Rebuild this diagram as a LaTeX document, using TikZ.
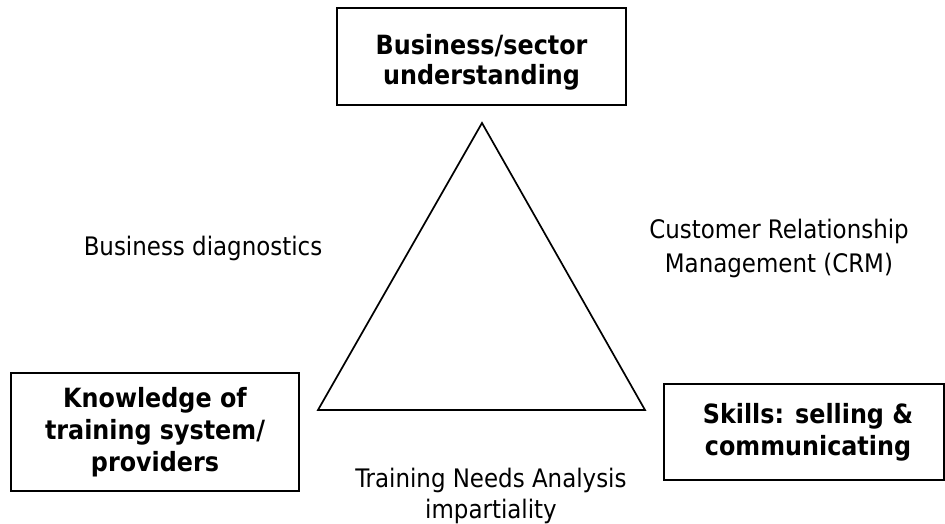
\documentclass[tikz,border=0pt]{standalone}
\usepackage{fontspec}
\setmainfont{DejaVu Sans Condensed}
\begin{document}
\begin{tikzpicture}[x=1pt,y=-1pt,
  txt/.style={font=\fontsize{25.5}{31}\selectfont, align=center, inner sep=0pt},
  boldtxt/.style={align=center, inner sep=0pt, font=\fontsize{26.5}{31}\selectfont\bfseries},
  framebox/.style={draw, line width=1.5pt},
  edge/.style={line width=1.7pt, line join=miter}]
  \useasboundingbox (0,0) rectangle (945,524);
  % corner boxes
  \node[framebox, minimum width=289pt, minimum height=97pt] (top) at (481.5,56.5) {};
  \node[framebox, minimum width=288pt, minimum height=118pt] (left) at (155,432) {};
  \node[framebox, minimum width=280pt, minimum height=96pt] (right) at (804,432) {};
  % box captions
  \node[boldtxt, font=\fontsize{26.5}{30}\selectfont\bfseries] (toptxt) at (481.5,62)
    {Business/sector\\understanding};
  \node[boldtxt, font=\fontsize{26.5}{32}\selectfont\bfseries] (lefttxt) at (155,432)
    {Knowledge of\\training system/\\providers};
  \node[boldtxt, font=\fontsize{26.5}{32}\selectfont\bfseries] (righttxt) at (808,432)
    {Skills: selling \&\\communicating};
  % triangle
  \coordinate (apex) at (482,123);
  \coordinate (bl) at (318,410);
  \coordinate (br) at (645,410);
  \draw[edge] (apex) -- (bl) -- (br) -- cycle;
  % side labels
  \node[txt] (diag) at (203,248) {Business diagnostics};
  \node[txt, font=\fontsize{25.5}{34}\selectfont] (crm) at (779,248)
    {Customer Relationship\\Management (CRM)};
  \node[txt] (tna) at (491,496) {Training Needs Analysis\\impartiality};
\end{tikzpicture}
\end{document}
